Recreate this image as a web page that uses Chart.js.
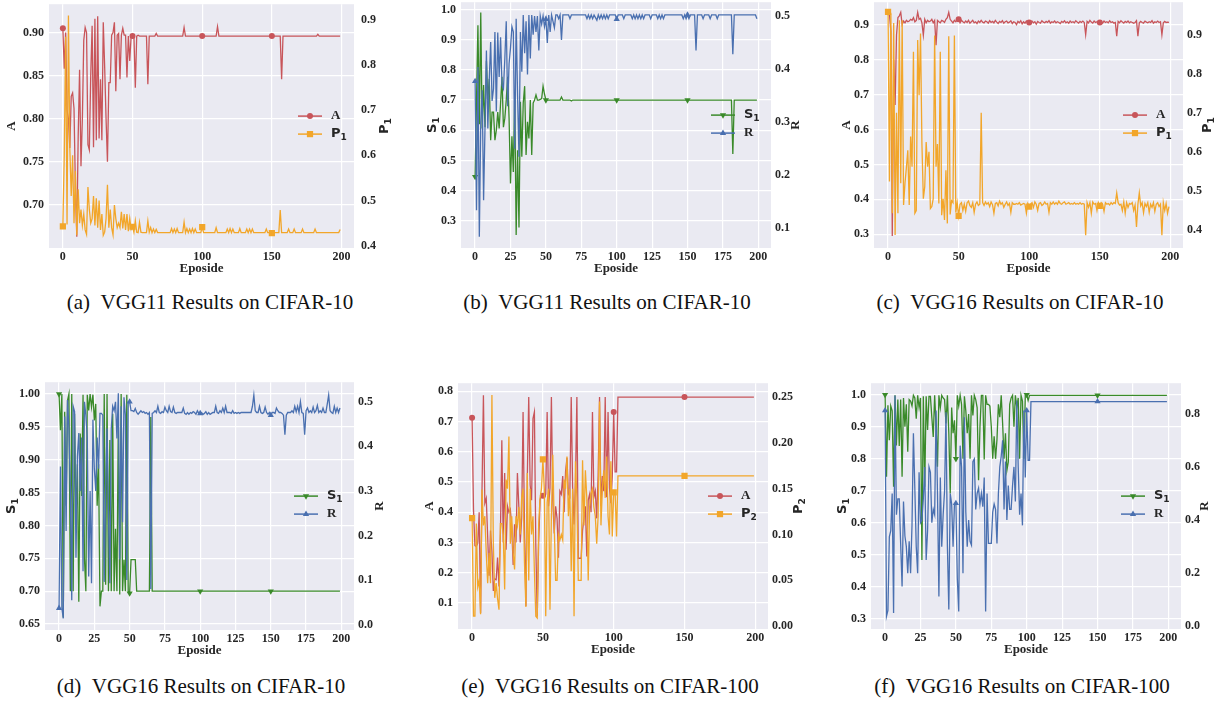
<!DOCTYPE html>
<html>
<head>
<meta charset="utf-8">
<script src="https://cdn.jsdelivr.net/npm/chart.js@4.4.1/dist/chart.umd.min.js"></script>
<style>
  body { margin: 0; background: #fff; width: 1229px; height: 704px; position: relative; overflow: hidden; font-family: 'Liberation Serif', serif; }
  .panel { position: absolute; }
  .cap { position: absolute; width: 440px; text-align: center; font-size: 21px; color: #111; white-space: nowrap; }
</style>
</head>
<body>
<div id="root"></div>
<script>
// ---- tick labels ----
const xTicks50 = [0, 50, 100, 150, 200];
const xTicks25 = [0, 25, 50, 75, 100, 125, 150, 175, 200];
const aTicksL = [0.70, 0.75, 0.80, 0.85, 0.90], aTicksR = [0.4, 0.5, 0.6, 0.7, 0.8, 0.9];
const bTicksL = [0.3, 0.4, 0.5, 0.6, 0.7, 0.8, 0.9, 1.0], bTicksR = [0.1, 0.2, 0.3, 0.4, 0.5];
const cTicksL = [0.3, 0.4, 0.5, 0.6, 0.7, 0.8, 0.9], cTicksR = [0.4, 0.5, 0.6, 0.7, 0.8, 0.9];
const dTicksL = [0.65, 0.70, 0.75, 0.80, 0.85, 0.90, 0.95, 1.00], dTicksR = [0.0, 0.1, 0.2, 0.3, 0.4, 0.5];
const eTicksL = [0.1, 0.2, 0.3, 0.4, 0.5, 0.6, 0.7, 0.8], eTicksR = [0.00, 0.05, 0.10, 0.15, 0.20, 0.25];
const fTicksL = [0.3, 0.4, 0.5, 0.6, 0.7, 0.8, 0.9, 1.0], fTicksR = [0.0, 0.2, 0.4, 0.6, 0.8];

// ---- data: head = values for episode 0,1,2..., tail = [episode, value] after the noisy part ----
// (a)
const aA = [0.905,0.858,0.900,0.810,0.800,0.766,0.826,0.830,0.812,0.720,
  0.663,0.780,0.857,0.745,0.800,0.891,0.906,0.900,0.770,0.764,
  0.850,0.908,0.767,0.916,0.775,0.919,0.777,0.846,0.775,0.912,
  0.860,0.800,0.750,0.842,0.842,0.897,0.900,0.912,0.832,0.897,
  0.899,0.846,0.897,0.905,0.897,0.897,0.848,0.896,0.867,0.896,
  0.896,0.896,0.836,0.896,0.897,0.896];
const aAtail = [[60,0.896],[61,0.840],[62,0.896],[66,0.896],[67,0.899],[68,0.896],[86,0.896],[87,0.906],[88,0.896],
  [100,0.896],[110,0.896],[111,0.907],[112,0.896],[150,0.896],[156,0.896],[157,0.846],[158,0.896],
  [182,0.896],[183,0.898],[184,0.896],[199,0.896]];
const aP = [0.443,0.600,0.862,0.447,0.909,0.615,0.510,0.600,0.450,0.565,
  0.423,0.525,0.450,0.480,0.445,0.470,0.435,0.425,0.530,0.480,
  0.450,0.460,0.510,0.445,0.505,0.440,0.500,0.435,0.470,0.423,
  0.430,0.460,0.535,0.440,0.480,0.440,0.424,0.490,0.460,0.440,
  0.450,0.440,0.475,0.438,0.470,0.435,0.470,0.432,0.460,0.436,
  0.442,0.430,0.455,0.430,0.429,0.452,0.430,0.429,0.429,0.429,
  0.429,0.455,0.430,0.440,0.429,0.437,0.429,0.436,0.429];
const aPtail = [[77,0.429],[78,0.438],[79,0.429],[80,0.437],[81,0.429],[82,0.438],[83,0.429],[86,0.429],[87,0.452],[88,0.429],
  [89,0.438],[90,0.429],[91,0.437],[92,0.429],[93,0.438],[94,0.429],[95,0.437],[96,0.429],[99,0.429],[100,0.441],[101,0.429],
  [109,0.429],[110,0.440],[111,0.429],[117,0.429],[118,0.437],[119,0.429],[120,0.438],[121,0.429],[122,0.437],[123,0.429],
  [126,0.429],[127,0.438],[128,0.429],[131,0.429],[132,0.437],[133,0.429],[134,0.437],[135,0.429],[136,0.437],[137,0.429],
  [145,0.429],[146,0.437],[147,0.429],[149,0.429],[150,0.428],[151,0.429],[155,0.429],[156,0.479],[157,0.429],
  [161,0.429],[162,0.437],[163,0.429],[165,0.429],[166,0.437],[167,0.429],[171,0.429],[172,0.437],[173,0.429],
  [180,0.429],[181,0.437],[182,0.429],[198,0.429],[199,0.436]];

// (b)
const bS = [0.446,0.700,0.948,0.620,0.990,0.606,0.750,0.610,0.830,0.700,
  0.770,0.567,0.660,0.660,0.567,0.600,0.660,0.606,0.690,0.777,
  0.610,0.640,0.700,0.777,0.640,0.424,0.580,0.462,0.720,0.253,
  0.534,0.278,0.694,0.512,0.690,0.746,0.518,0.628,0.573,0.700,
  0.518,0.690,0.700,0.717,0.700,0.700,0.702,0.705,0.746,0.720,
  0.700,0.700,0.700];
const bStail = [[60,0.700],[61,0.710],[62,0.700],[67,0.700],[68,0.697],[69,0.700],[100,0.700],[150,0.700],
  [181,0.700],[182,0.521],[183,0.700],[199,0.700]];
const bR = [0.377,0.134,0.404,0.084,0.300,0.360,0.153,0.290,0.435,0.288,
  0.380,0.451,0.340,0.363,0.470,0.320,0.469,0.385,0.460,0.370,
  0.363,0.420,0.490,0.330,0.410,0.440,0.480,0.470,0.250,0.495,
  0.350,0.235,0.470,0.395,0.502,0.430,0.490,0.390,0.502,0.420,
  0.502,0.465,0.500,0.470,0.500,0.435,0.500,0.485,0.500,0.480,
  0.494,0.449,0.502,0.470,0.502,0.490,0.478,0.502,0.502,0.495,
  0.502,0.455,0.502];
const bRtail = [[66,0.502],[67,0.495],[68,0.502],[78,0.502],[79,0.495],[80,0.502],[81,0.495],[82,0.502],[83,0.495],[84,0.502],
  [85,0.497],[86,0.492],[87,0.502],[88,0.495],[89,0.502],[90,0.495],[91,0.502],[92,0.495],[93,0.502],[94,0.495],[95,0.502],
  [99,0.502],[100,0.494],[101,0.502],[104,0.502],[105,0.495],[106,0.502],[110,0.502],[111,0.495],[112,0.502],[113,0.495],
  [114,0.502],[115,0.495],[116,0.502],[117,0.495],[118,0.502],[119,0.495],[120,0.502],[123,0.502],[124,0.495],[125,0.502],
  [128,0.502],[129,0.495],[130,0.502],[131,0.495],[132,0.502],[133,0.495],[134,0.502],[146,0.502],[147,0.495],[148,0.502],
  [149,0.495],[150,0.502],[151,0.495],[152,0.502],[155,0.502],[156,0.435],[157,0.502],[160,0.502],[161,0.495],[162,0.502],
  [165,0.502],[166,0.495],[167,0.502],[170,0.502],[171,0.495],[172,0.502],[181,0.502],[182,0.428],[183,0.502],
  [198,0.502],[199,0.495]];

// (c)
const cA = [0.935,0.930,0.880,0.295,0.800,0.670,0.870,0.920,0.925,0.935,
  0.900,0.910,0.905,0.912,0.908,0.910,0.915,0.912,0.920,0.908,
  0.912,0.935,0.915,0.918,0.905,0.870,0.915,0.905,0.912,0.908,
  0.910,0.915,0.905,0.912,0.841,0.912,0.908,0.905,0.912,0.910,
  0.906,0.915,0.920,0.935,0.915,0.910,0.905,0.912,0.908,0.915,
  0.915,0.905,0.912,0.908,0.905,0.910,0.906,0.912,0.904,0.908,
  0.912,0.905,0.908,0.903,0.910,0.906,0.912,0.907,0.905,0.910,
  0.908,0.904,0.911,0.906,0.909,0.905,0.912,0.907,0.903,0.909,
  0.906,0.911,0.904,0.908,0.910,0.905,0.907,0.911,0.903,0.908,
  0.906,0.900,0.909,0.905,0.911,0.902,0.908,0.904,0.910,0.906,
  0.906,0.903,0.910,0.905,0.908,0.901,0.909,0.906,0.904,0.911,
  0.907,0.905,0.909,0.906,0.911,0.904,0.908,0.906,0.910,0.905,
  0.908,0.906,0.903,0.909,0.906,0.911,0.905,0.908,0.904,0.910,
  0.906,0.908,0.905,0.911,0.907,0.904,0.909,0.906,0.910,0.906,
  0.871,0.909,0.905,0.912,0.907,0.904,0.910,0.906,0.908,0.905,
  0.906,0.909,0.904,0.910,0.906,0.908,0.905,0.911,0.906,0.908,
  0.904,0.906,0.867,0.909,0.905,0.911,0.907,0.904,0.909,0.906,
  0.910,0.905,0.908,0.906,0.904,0.906,0.911,0.867,0.905,0.909,
  0.906,0.904,0.910,0.907,0.905,0.908,0.906,0.911,0.904,0.908,
  0.906,0.910,0.906,0.908,0.871,0.905,0.909,0.906,0.907,0.906];
const cP = [0.958,0.524,0.955,0.443,0.930,0.387,0.700,0.443,0.937,0.520,
  0.937,0.464,0.520,0.560,0.604,0.464,0.639,0.562,0.856,0.443,
  0.450,0.886,0.745,0.903,0.620,0.480,0.511,0.625,0.562,0.600,
  0.455,0.460,0.480,0.898,0.562,0.620,0.468,0.856,0.438,0.480,
  0.426,0.553,0.417,0.896,0.440,0.475,0.470,0.898,0.445,0.470,
  0.436,0.466,0.470,0.450,0.466,0.448,0.470,0.474,0.462,0.458,
  0.470,0.445,0.466,0.472,0.463,0.466,0.700,0.470,0.463,0.472,
  0.466,0.470,0.460,0.472,0.465,0.443,0.468,0.470,0.462,0.474,
  0.466,0.470,0.458,0.466,0.472,0.463,0.468,0.445,0.470,0.466,
  0.466,0.468,0.466,0.470,0.464,0.466,0.468,0.466,0.443,0.468,
  0.460,0.466,0.470,0.458,0.472,0.466,0.450,0.468,0.470,0.463,
  0.466,0.472,0.466,0.468,0.445,0.470,0.466,0.472,0.466,0.470,
  0.466,0.474,0.468,0.466,0.470,0.472,0.466,0.468,0.470,0.466,
  0.468,0.466,0.470,0.466,0.468,0.466,0.470,0.466,0.468,0.466,
  0.387,0.470,0.458,0.470,0.443,0.472,0.466,0.468,0.450,0.470,
  0.462,0.470,0.466,0.448,0.470,0.466,0.468,0.464,0.470,0.466,
  0.470,0.468,0.495,0.470,0.464,0.466,0.450,0.472,0.443,0.470,
  0.458,0.468,0.466,0.470,0.450,0.464,0.408,0.466,0.495,0.462,
  0.470,0.444,0.468,0.460,0.470,0.445,0.466,0.458,0.470,0.448,
  0.466,0.470,0.460,0.466,0.387,0.470,0.450,0.468,0.443,0.460];

// (d)
const dS = [1.000,0.945,1.000,0.660,0.973,0.830,0.990,1.000,0.700,1.000,
  0.700,0.970,0.800,0.893,0.684,0.940,0.845,0.999,0.750,0.700,
  0.999,0.975,1.000,0.980,0.999,0.960,0.985,0.830,0.893,0.677,
  0.700,0.700,1.000,0.710,1.000,0.700,0.930,0.700,0.970,0.700,
  0.795,0.700,0.960,0.695,1.000,0.700,0.748,0.700,0.999,0.700,
  0.697,0.748,0.748,0.748,0.748,0.700,0.700];
const dStail = [[64,0.700],[65,0.965],[66,0.700],[100,0.700],[150,0.700],[199,0.700]];
const dR = [0.037,0.355,0.037,0.014,0.467,0.210,0.504,0.440,0.300,0.055,
  0.490,0.478,0.150,0.377,0.430,0.300,0.420,0.120,0.500,0.470,
  0.420,0.108,0.300,0.093,0.460,0.350,0.300,0.420,0.350,0.474,
  0.474,0.470,0.096,0.300,0.440,0.250,0.093,0.440,0.490,0.480,
  0.500,0.418,0.519,0.146,0.490,0.230,0.510,0.470,0.100,0.500,
  0.500,0.480,0.480,0.478,0.485,0.476,0.472,0.476,0.480,0.476,
  0.478,0.474,0.476,0.472,0.476,0.080,0.474,0.476,0.480,0.476,
  0.490,0.476,0.474,0.478,0.476,0.488,0.480,0.476,0.490,0.478,
  0.476,0.488,0.476,0.474,0.476,0.476,0.476,0.476,0.486,0.474,
  0.472,0.476,0.472,0.476,0.474,0.478,0.476,0.472,0.480,0.474,
  0.474,0.476,0.472,0.474,0.478,0.472,0.476,0.472,0.474,0.476,
  0.476,0.490,0.476,0.474,0.480,0.476,0.486,0.476,0.490,0.476,
  0.476,0.476,0.474,0.480,0.474,0.476,0.474,0.476,0.474,0.476,
  0.476,0.476,0.476,0.476,0.476,0.476,0.476,0.490,0.515,0.480,
  0.476,0.476,0.490,0.476,0.474,0.476,0.488,0.476,0.472,0.476,
  0.470,0.476,0.476,0.474,0.486,0.480,0.476,0.476,0.474,0.470,
  0.426,0.470,0.476,0.476,0.476,0.480,0.476,0.490,0.478,0.490,
  0.476,0.500,0.476,0.474,0.426,0.480,0.486,0.476,0.480,0.476,
  0.488,0.476,0.480,0.492,0.476,0.480,0.476,0.486,0.476,0.476,
  0.495,0.515,0.480,0.476,0.474,0.490,0.476,0.486,0.476,0.486];

// (e)
const eA = [0.713,0.408,0.290,0.287,0.298,0.400,0.067,0.470,0.787,0.430,
  0.446,0.320,0.190,0.340,0.270,0.140,0.180,0.177,0.250,0.155,
  0.330,0.638,0.300,0.530,0.276,0.420,0.400,0.410,0.350,0.226,
  0.360,0.300,0.530,0.420,0.300,0.380,0.732,0.350,0.090,0.520,
  0.781,0.490,0.440,0.710,0.732,0.290,0.056,0.300,0.440,0.460,
  0.455,0.450,0.460,0.732,0.420,0.480,0.781,0.440,0.330,0.420,
  0.380,0.250,0.470,0.460,0.520,0.400,0.534,0.580,0.460,0.452,
  0.781,0.480,0.360,0.500,0.781,0.248,0.248,0.248,0.340,0.380,
  0.420,0.254,0.440,0.460,0.400,0.732,0.450,0.470,0.380,0.520,
  0.781,0.420,0.520,0.470,0.781,0.450,0.732,0.480,0.430,0.520,
  0.732,0.534,0.534,0.781,0.781];
const eAtail = [[150,0.781],[199,0.781]];
const eP = [0.118,0.011,0.011,0.112,0.043,0.050,0.013,0.149,0.110,0.120,
  0.080,0.047,0.080,0.047,0.252,0.090,0.031,0.047,0.030,0.018,
  0.112,0.112,0.100,0.040,0.160,0.150,0.207,0.090,0.120,0.080,
  0.062,0.120,0.110,0.130,0.100,0.140,0.150,0.069,0.021,0.167,
  0.050,0.150,0.100,0.120,0.060,0.011,0.009,0.110,0.140,0.150,
  0.182,0.150,0.011,0.135,0.150,0.018,0.120,0.187,0.110,0.050,
  0.050,0.100,0.094,0.100,0.094,0.160,0.150,0.185,0.120,0.150,
  0.060,0.150,0.011,0.180,0.140,0.050,0.050,0.050,0.181,0.110,
  0.170,0.140,0.050,0.130,0.145,0.150,0.130,0.120,0.090,0.120,
  0.245,0.110,0.150,0.170,0.140,0.185,0.120,0.100,0.180,0.098,
  0.146,0.146,0.098,0.164];
const ePtail = [[150,0.164],[199,0.164]];

// (f)
const fS = [1.000,0.744,0.967,0.858,0.965,0.950,0.713,0.998,0.842,0.985,
  0.840,0.985,0.744,0.990,0.900,0.970,0.822,0.985,0.980,0.965,
  0.998,0.990,0.925,0.998,0.960,0.990,0.484,0.995,0.713,0.995,
  0.890,0.995,0.995,0.930,0.868,0.998,0.900,0.775,0.998,0.960,
  0.998,0.990,0.985,0.910,0.998,0.880,0.692,0.960,0.880,0.920,
  0.800,0.998,0.965,0.998,0.970,0.800,0.995,0.950,0.880,0.940,
  0.800,0.998,0.935,0.998,0.985,0.960,0.733,0.900,0.998,0.998,
  0.798,0.998,0.970,0.970,0.965,0.900,0.800,0.870,0.800,0.860,
  0.970,0.930,0.998,0.910,0.800,0.880,0.764,0.790,0.970,0.990,
  0.998,0.900,0.998,0.960,0.990,0.800,0.998,0.980,0.800,0.998,
  1.000,0.982,0.998,0.998];
const fStail = [[150,0.998],[199,0.998]];
const fR = [0.812,0.038,0.060,0.337,0.360,0.500,0.050,0.869,0.420,0.480,
  0.480,0.310,0.150,0.470,0.340,0.300,0.200,0.320,0.200,0.380,
  0.727,0.520,0.300,0.200,0.580,0.390,0.400,0.480,0.600,0.250,
  0.360,0.600,0.580,0.390,0.440,0.420,0.812,0.500,0.112,0.560,
  0.300,0.420,0.510,0.806,0.300,0.063,0.500,0.460,0.300,0.463,
  0.463,0.180,0.056,0.680,0.600,0.200,0.787,0.430,0.300,0.400,
  0.320,0.306,0.620,0.630,0.440,0.500,0.520,0.460,0.500,0.450,
  0.560,0.056,0.500,0.312,0.312,0.312,0.430,0.460,0.440,0.312,
  0.500,0.600,0.640,0.700,0.440,0.620,0.400,0.530,0.440,0.440,
  0.530,0.600,0.470,0.850,0.600,0.420,0.500,0.380,0.812,0.560,
  0.812,0.625,0.625,0.846];
const fRtail = [[150,0.846],[199,0.846]];

// ---- styles ----
const RED = '#c8555a', ORANGE = '#f2a62a', GREEN = '#3a8a2a', BLUE = '#4a70b0';
const LAB = {
  A: { t: 'A' }, R: { t: 'R' },
  P1: { t: 'P', sub: '1', sans: true }, P2: { t: 'P', sub: '2', sans: true },
  S1: { t: 'S', sub: '1', sans: true }
};
const MK = {
  A: { pointStyle: 'circle', radius: 3, rotation: 0 },
  P: { pointStyle: 'rect', radius: 4.4, rotation: 0 },
  S: { pointStyle: 'triangle', radius: 3.6, rotation: 180 },
  R: { pointStyle: 'triangle', radius: 3.6, rotation: 0 }
};

function pts(head, tail) {
  return head.map((y, x) => ({ x: x, y: y })).concat((tail || []).map(p => ({ x: p[0], y: p[1] })));
}

const panels = [
  { box: [49, 2, 354, 248], xt: xTicks50, yl: [0.650, 0.933], yr: [0.395, 0.934], tl: aTicksL, tr: aTicksR, dl: 2, dr: 1,
    s1: { d: pts(aA, aAtail), c: RED, m: MK.A, lab: LAB.A }, s2: { d: pts(aP, aPtail), c: ORANGE, m: MK.P, lab: LAB.P1 },
    ld: 37, rd: 31, rp: 7, lg: 56, cap: '(a)\u2002VGG11 Results on CIFAR-10', cx: 210, cy: 303 },
  { box: [461, 2, 771, 248], xt: xTicks25, yl: [0.210, 1.024], yr: [0.063, 0.526], tl: bTicksL, tr: bTicksR, dl: 1, dr: 1,
    s1: { d: pts(bS, bStail), c: GREEN, m: MK.S, lab: LAB.S1 }, s2: { d: pts(bR, bRtail), c: BLUE, m: MK.R, lab: LAB.R },
    ld: 28, rd: 25, rp: 4, lg: 60, cap: '(b)\u2002VGG11 Results on CIFAR-10', cx: 607, cy: 303 },
  { box: [874, 2, 1183, 248], xt: xTicks50, yl: [0.261, 0.964], yr: [0.354, 0.983], tl: cTicksL, tr: cTicksR, dl: 1, dr: 1,
    s1: { d: pts(cA), c: RED, m: MK.A, lab: LAB.A }, s2: { d: pts(cP), c: ORANGE, m: MK.P, lab: LAB.P1 },
    ld: 27, rd: 25, rp: 4, lg: 60, cap: '(c)\u2002VGG16 Results on CIFAR-10', cx: 1020, cy: 303 },
  { box: [45, 382, 354, 630], xt: xTicks25, yl: [0.641, 1.018], yr: [-0.012, 0.544], tl: dTicksL, tr: dTicksR, dl: 2, dr: 1,
    s1: { d: pts(dS, dStail), c: GREEN, m: MK.S, lab: LAB.S1 }, s2: { d: pts(dR), c: BLUE, m: MK.R, lab: LAB.R },
    ld: 33, rd: 26, rp: 4, lg: 60, cap: '(d)\u2002VGG16 Results on CIFAR-10', cx: 201, cy: 687 },
  { box: [458, 383, 768, 629], xt: xTicks50, yl: [0.014, 0.827], yr: [-0.003, 0.265], tl: eTicksL, tr: eTicksR, dl: 1, dr: 2,
    s1: { d: pts(eA, eAtail), c: RED, m: MK.A, lab: LAB.A }, s2: { d: pts(eP, ePtail), c: ORANGE, m: MK.P, lab: LAB.P2 },
    ld: 28, rd: 31, rp: 4, lg: 60, cap: '(e)\u2002VGG16 Results on CIFAR-100', cx: 610, cy: 687 },
  { box: [871, 383, 1181, 629], xt: xTicks25, yl: [0.269, 1.036], yr: [-0.010, 0.915], tl: fTicksL, tr: fTicksR, dl: 1, dr: 1,
    s1: { d: pts(fS, fStail), c: GREEN, m: MK.S, lab: LAB.S1 }, s2: { d: pts(fR, fRtail), c: BLUE, m: MK.R, lab: LAB.R },
    ld: 28, rd: 24, rp: 4, lg: 60, cap: '(f)\u2002VGG16 Results on CIFAR-100', cx: 1022, cy: 687 }
];

const TICKFONT = { family: "'Liberation Serif', serif", size: 12, weight: 'bold' };
const TXT = '#262626';
const LW = 50, RW = 45, XH = 30, TOP = 12;

function drawLab(ctx, lab, x, y, size, align) {
  const fam = lab.sans ? "'DejaVu Sans', sans-serif" : "'Liberation Serif', serif";
  const f1 = 'bold ' + size + 'px ' + fam;
  const f2 = 'bold ' + Math.round(size * 0.7) + 'px ' + fam;
  ctx.font = f1;
  const w1 = ctx.measureText(lab.t).width;
  let w2 = 0;
  if (lab.sub) { ctx.font = f2; w2 = ctx.measureText(lab.sub).width; }
  const x0 = align === 'center' ? x - (w1 + w2) / 2 : x;
  ctx.textAlign = 'left';
  ctx.textBaseline = 'middle';
  ctx.font = f1;
  ctx.fillText(lab.t, x0, y);
  if (lab.sub) { ctx.font = f2; ctx.fillText(lab.sub, x0 + w1, y + size * 0.28); }
}

const deco = {
  id: 'deco',
  beforeDraw(chart) {
    const a = chart.chartArea, ctx = chart.ctx;
    ctx.save();
    ctx.fillStyle = '#eaeaf2';
    ctx.fillRect(a.left, a.top, a.right - a.left, a.bottom - a.top);
    ctx.restore();
  },
  afterDraw(chart) {
    const p = chart.options.plugins.deco.p;
    const a = chart.chartArea, ctx = chart.ctx;
    const mid = (a.top + a.bottom) / 2;
    ctx.save();
    ctx.fillStyle = TXT;
    // x title
    ctx.font = "bold 13px 'Liberation Serif', serif";
    ctx.textAlign = 'center';
    ctx.textBaseline = 'middle';
    ctx.fillText('Eposide', (a.left + a.right) / 2, a.bottom + 21);
    // y titles, rotated
    [[p.s1.lab, a.left - p.ld], [p.s2.lab, a.right + p.rd]].forEach(([lab, x]) => {
      ctx.save();
      ctx.translate(x, mid);
      ctx.rotate(-Math.PI / 2);
      drawLab(ctx, lab, 0, 0, 13, 'center');
      ctx.restore();
    });
    // legend
    [[p.s1, mid - 10], [p.s2, mid + 8]].forEach(([s, y]) => {
      const x0 = a.right - p.lg;
      ctx.strokeStyle = s.c;
      ctx.lineWidth = 1.5;
      ctx.beginPath();
      ctx.moveTo(x0, y);
      ctx.lineTo(x0 + 24, y);
      ctx.stroke();
      ctx.fillStyle = s.c;
      Chart.helpers.drawPoint(ctx, { pointStyle: s.m.pointStyle, rotation: s.m.rotation, radius: s.m.radius, borderWidth: 0 }, x0 + 12, y);
      ctx.fillStyle = TXT;
      drawLab(ctx, s.lab, x0 + 33, y, 13, 'left');
    });
    ctx.restore();
  }
};

function dataset(s, axis, order) {
  return {
    data: s.d, yAxisID: axis, order: order,
    borderColor: s.c, backgroundColor: s.c, borderWidth: 1.3, tension: 0,
    pointStyle: s.m.pointStyle, pointRotation: s.m.rotation,
    pointRadius: ctx => (ctx.raw && ctx.raw.x % 50 === 0) ? s.m.radius : 0,
    pointHoverRadius: 0, pointBorderWidth: 0, pointBackgroundColor: s.c
  };
}

const root = document.getElementById('root');
panels.forEach(p => {
  const [l, t, r, b] = p.box;
  const w = (r - l) + LW + RW, h = (b - t) + TOP + XH;
  const div = document.createElement('div');
  div.className = 'panel';
  div.style.left = (l - LW) + 'px';
  div.style.top = (t - TOP) + 'px';
  const cv = document.createElement('canvas');
  cv.width = w; cv.height = h;
  cv.style.width = w + 'px'; cv.style.height = h + 'px';
  div.appendChild(cv);
  root.appendChild(div);

  const cap = document.createElement('div');
  cap.className = 'cap';
  cap.textContent = p.cap;
  cap.style.left = (p.cx - 220) + 'px';
  cap.style.top = (p.cy - 13) + 'px';
  root.appendChild(cap);

  new Chart(cv, {
    type: 'line',
    data: { datasets: [dataset(p.s1, 'yL', 1), dataset(p.s2, 'yR', 0)] },
    options: {
      responsive: false, animation: false, devicePixelRatio: 1, events: [],
      layout: { padding: { top: TOP, left: 0, right: 0, bottom: 0 } },
      plugins: { legend: { display: false }, tooltip: { enabled: false }, deco: { p: p } },
      scales: {
        x: {
          type: 'linear', min: -9.95, max: 208.95,
          afterBuildTicks: s => { s.ticks = p.xt.map(v => ({ value: v })); },
          afterFit: s => { s.height = XH; },
          grid: { color: '#ffffff', lineWidth: 1.2, drawTicks: false },
          border: { display: false },
          ticks: { font: TICKFONT, color: TXT, padding: 2, maxRotation: 0, autoSkip: false, callback: v => String(v) }
        },
        yL: {
          position: 'left', min: p.yl[0], max: p.yl[1],
          afterBuildTicks: s => { s.ticks = p.tl.map(v => ({ value: v })); },
          afterFit: s => { s.width = LW; },
          grid: { color: '#ffffff', lineWidth: 1.2, drawTicks: false },
          border: { display: false },
          ticks: { font: TICKFONT, color: TXT, padding: 5, autoSkip: false, callback: v => v.toFixed(p.dl) }
        },
        yR: {
          position: 'right', min: p.yr[0], max: p.yr[1],
          afterBuildTicks: s => { s.ticks = p.tr.map(v => ({ value: v })); },
          afterFit: s => { s.width = RW; },
          grid: { display: false, drawTicks: false },
          border: { display: false },
          ticks: { font: TICKFONT, color: TXT, padding: p.rp, autoSkip: false, callback: v => v.toFixed(p.dr) }
        }
      }
    },
    plugins: [deco]
  });
});
</script>
</body>
</html>
